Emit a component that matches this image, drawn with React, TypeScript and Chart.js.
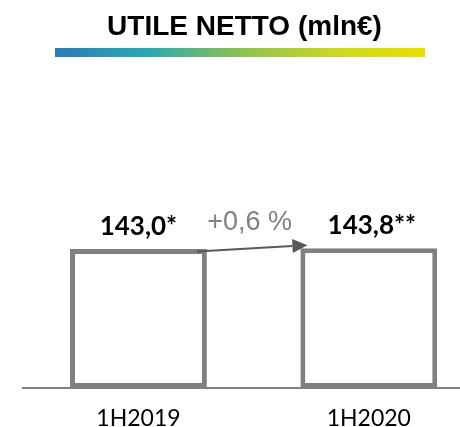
import React, { useEffect, useRef } from "react";
import { Chart, registerables } from "chart.js";

Chart.register(...registerables);

const categories = ["1H2019", "1H2020"];
const values = [143.0, 143.8];
const suffixes = ["*", "**"];
const title = "UTILE NETTO (mln€)";
const gradientStops = ["#2b7bb7", "#2aa9b3", "#8cc152", "#c9d823", "#e9e000"];

const fmt = (v: number) => v.toFixed(1).replace(".", ",");

const decorPlugin = {
  id: "decor",
  afterDatasetsDraw(chart: any) {
    const ctx = chart.ctx;
    const meta = chart.getDatasetMeta(0);
    const b1 = meta.data[0];
    const b2 = meta.data[1];
    ctx.save();
    // title
    ctx.fillStyle = "#000";
    ctx.font = "bold 28px 'Liberation Sans', Arial, sans-serif";
    ctx.textAlign = "center";
    ctx.textBaseline = "alphabetic";
    ctx.fillText(title, 244.5, 35);
    // gradient bar
    const g = ctx.createLinearGradient(55, 0, 425, 0);
    gradientStops.forEach((c, i) => g.addColorStop(i / (gradientStops.length - 1), c));
    ctx.fillStyle = g;
    ctx.fillRect(55, 48, 370, 9);
    // value labels
    ctx.font = "bold 26px Lato, sans-serif";
    ctx.fillStyle = "#000";
    meta.data.forEach((bar: any, i: number) => {
      ctx.fillText(fmt(values[i]) + suffixes[i], bar.x + (i === 1 ? 3 : 0), bar.y - 14);
    });
    // change label
    const pct = (values[1] / values[0] - 1) * 100;
    ctx.font = "27px 'Liberation Sans', Arial, sans-serif";
    ctx.fillStyle = "#808080";
    ctx.fillText("+" + fmt(pct) + " %", (b1.x + b2.x) / 2 - 4, b2.y - 18);
    // arrow
    const x0 = b1.x + b1.width / 2 - 10;
    const y0 = b1.y + 2.5;
    const x1 = b2.x - b2.width / 2 + 7;
    const y1 = b2.y - 3;
    const ang = Math.atan2(y1 - y0, x1 - x0);
    const hl = 15;
    const hw = 7;
    ctx.strokeStyle = "#595959";
    ctx.fillStyle = "#595959";
    ctx.lineWidth = 2;
    ctx.beginPath();
    ctx.moveTo(x0, y0);
    ctx.lineTo(x1 - hl * Math.cos(ang), y1 - hl * Math.sin(ang));
    ctx.stroke();
    ctx.beginPath();
    ctx.moveTo(x1, y1);
    ctx.lineTo(x1 - hl * Math.cos(ang) + hw * Math.sin(ang), y1 - hl * Math.sin(ang) - hw * Math.cos(ang));
    ctx.lineTo(x1 - hl * Math.cos(ang) - hw * Math.sin(ang), y1 - hl * Math.sin(ang) + hw * Math.cos(ang));
    ctx.closePath();
    ctx.fill();
    ctx.restore();
  },
};

export default function App() {
  const ref = useRef<HTMLCanvasElement>(null);
  useEffect(() => {
    if (!ref.current) return;
    const chart = new Chart(ref.current, {
      type: "bar",
      data: {
        labels: categories,
        datasets: [
          {
            data: values,
            backgroundColor: "#ffffff",
            borderColor: "#808080",
            borderWidth: 5,
            borderSkipped: false,
            barPercentage: 0.594,
            categoryPercentage: 1,
          },
        ],
      },
      options: {
        responsive: false,
        animation: false,
        layout: { padding: { top: 193.6, left: 23.25, right: 6, bottom: 0 } },
        plugins: { legend: { display: false }, tooltip: { enabled: false }, title: { display: false } },
        scales: {
          x: {
            grid: { display: false, drawTicks: false },
            border: { display: true, color: "#808080", width: 2 },
            ticks: {
              color: "#000",
              padding: 17.2,
              font: { family: "Lato, sans-serif", size: 23, lineHeight: 1.2 },
            },
          },
          y: { display: false, min: 0, max: 200 },
        },
      },
      plugins: [decorPlugin],
    });
    return () => chart.destroy();
  }, []);
  return (
    <div style={{ position: "fixed", left: 0, top: 0, width: 460, height: 427, overflow: "hidden", background: "#fff" }}>
      <canvas ref={ref} width={490} height={450} style={{ display: "block" }} />
    </div>
  );
}
